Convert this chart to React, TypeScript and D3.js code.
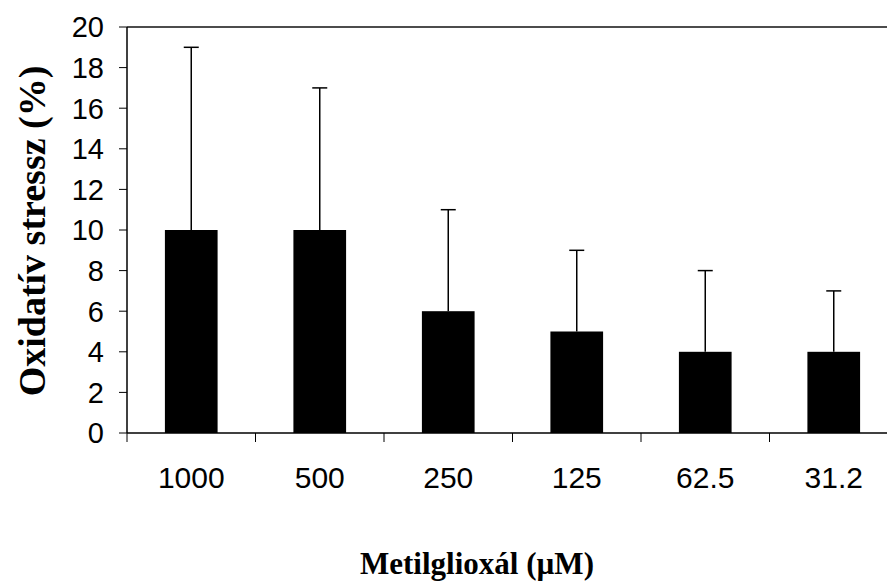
import React from "react";
import * as d3 from "d3";

const categories = ["1000", "500", "250", "125", "62.5", "31.2"];
const means = [10, 10, 6, 5, 4, 4];
const errors = [9, 7, 5, 4, 4, 3];
const yTicks = [0, 2, 4, 6, 8, 10, 12, 14, 16, 18, 20];

const W = 887;
const H = 582;
const left = 127;
const top = 27;
const bottom = 433;
const bandStep = 128.5;
const right = left + bandStep * categories.length;

const sans = "Arial, 'Liberation Sans', sans-serif";
const serif = "'Times New Roman', 'Liberation Serif', serif";

export default function App() {
  const x = d3.scaleBand<string>().domain(categories).range([left, right]).paddingInner(0.59).paddingOuter(0.295);
  const y = d3.scaleLinear().domain([0, 20]).range([bottom, top]);
  const step = x.step();
  const capHalf = 7.5;

  return (
    <svg width={W} height={H} style={{ position: "absolute", left: 0, top: 0, background: "#fff" }}>
      {/* frame top */}
      <line x1={left} x2={W} y1={top} y2={top} stroke="#111" strokeWidth={1.5} />
      {/* bars */}
      {categories.map((c, i) => (
        <rect key={c} x={x(c)!} y={y(means[i])} width={x.bandwidth()} height={y(0) - y(means[i])} fill="#000" />
      ))}
      {/* upper error bars */}
      {categories.map((c, i) => {
        const cx = x(c)! + x.bandwidth() / 2;
        return (
          <g key={"e" + c} stroke="#000" strokeWidth={1.5}>
            <line x1={cx} x2={cx} y1={y(means[i])} y2={y(means[i] + errors[i])} />
            <line x1={cx - capHalf} x2={cx + capHalf} y1={y(means[i] + errors[i])} y2={y(means[i] + errors[i])} />
          </g>
        );
      })}
      {/* y axis */}
      <line x1={left} x2={left} y1={top} y2={bottom} stroke="#000" strokeWidth={1.5} />
      {yTicks.map((t) => (
        <g key={t}>
          <line x1={left - 8} x2={left} y1={y(t)} y2={y(t)} stroke="#000" strokeWidth={1} />
          <text x={104} y={y(t)} dy="0.36em" textAnchor="end" fontFamily={sans} fontSize={29} fill="#000">
            {t}
          </text>
        </g>
      ))}
      {/* x axis */}
      <line x1={left} x2={W} y1={bottom} y2={bottom} stroke="#000" strokeWidth={1.5} />
      {d3.range(categories.length + 1).map((i) => (
        <line key={"t" + i} x1={left + i * step} x2={left + i * step} y1={bottom} y2={bottom + 9} stroke="#000" strokeWidth={1} />
      ))}
      {categories.map((c) => (
        <text key={"l" + c} x={x(c)! + x.bandwidth() / 2} y={488} textAnchor="middle" fontFamily={sans} fontSize={30} fill="#000">
          {c}
        </text>
      ))}
      {/* axis titles */}
      <text
        transform={`translate(45,231) rotate(-90)`}
        textAnchor="middle"
        fontFamily={serif}
        fontWeight="bold"
        fontSize={38}
        fill="#000"
      >
        Oxidatív stressz (%)
      </text>
      <text x={477} y={574} textAnchor="middle" fontFamily={serif} fontWeight="bold" fontSize={31} fill="#000">
        Metilglioxál (µM)
      </text>
    </svg>
  );
}
